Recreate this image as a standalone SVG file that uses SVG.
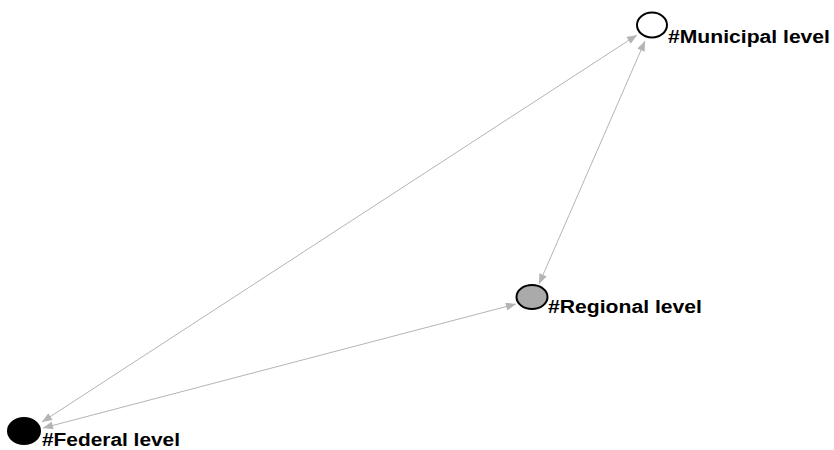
<svg xmlns="http://www.w3.org/2000/svg" width="834" height="450" viewBox="0 0 834 450">
<defs>
<marker id="ah" viewBox="0 0 10 8" refX="10" refY="4" markerWidth="11" markerHeight="8" markerUnits="userSpaceOnUse" orient="auto-start-reverse">
<path d="M0,0 L10,4 L0,8 Z" fill="#b4b4b4"/>
</marker>
<style>
.edge{stroke:#b4b4b4;stroke-width:1;fill:none;marker-start:url(#ah);marker-end:url(#ah)}
.node{stroke:#000;stroke-width:2}
.lbl{font-family:"Liberation Sans",Arial,sans-serif;font-weight:bold;font-size:18px;fill:#000}
</style>
</defs>
<rect width="834" height="450" fill="#fff"/>
<g id="edges">
<line class="edge" x1="42" y1="422" x2="637" y2="35"/>
<line class="edge" x1="43" y1="428" x2="516" y2="304"/>
<line class="edge" x1="645" y1="41" x2="539" y2="284"/>
</g>
<g id="municipal">
<ellipse class="node" cx="652" cy="25" rx="15" ry="12.5" fill="#fff"/>
<text class="lbl" x="668" y="43" textLength="162" lengthAdjust="spacingAndGlyphs">#Municipal level</text>
</g>
<g id="regional">
<ellipse class="node" cx="532" cy="297" rx="15.5" ry="12" fill="#aaaaaa"/>
<text class="lbl" x="548" y="313" textLength="154" lengthAdjust="spacingAndGlyphs">#Regional level</text>
</g>
<g id="federal">
<ellipse class="node" cx="24" cy="431" rx="16" ry="13" fill="#000"/>
<text class="lbl" x="42" y="446" textLength="138" lengthAdjust="spacingAndGlyphs">#Federal level</text>
</g>
</svg>
